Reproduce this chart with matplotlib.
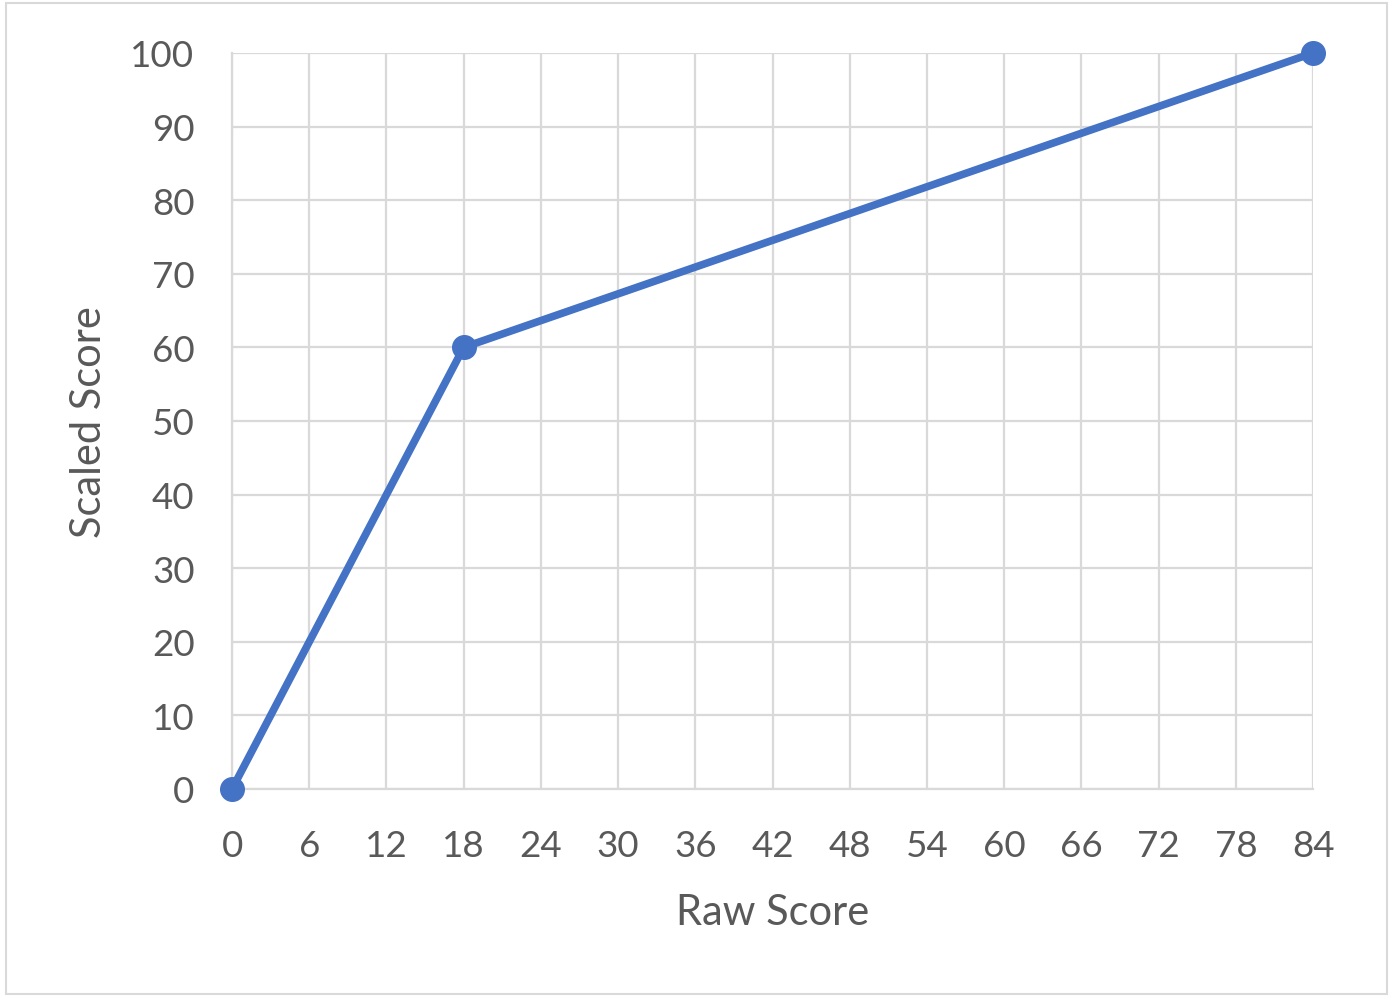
import matplotlib.pyplot as plt
from matplotlib.patches import Rectangle

raw_score = [0, 18, 84]
scaled_score = [0, 60, 100]
x_ticks = list(range(0, 85, 6))
y_ticks = list(range(0, 101, 10))

plt.rcParams['font.family'] = ['Lato', 'DejaVu Sans']
grey = '#595959'
grid_col = '#D9D9D9'

fig = plt.figure(figsize=(13.93, 10.03), dpi=100)
ax = fig.add_axes([0.1666, 0.2124, 0.776, 0.7338])

ax.plot(raw_score, scaled_score, color='#4472C4', lw=5.5, marker='o',
        markersize=17, solid_capstyle='round', clip_on=False, zorder=5)

ax.set_xlim(0, 84)
ax.set_ylim(0, 100)
ax.set_xticks(x_ticks)
ax.set_yticks(y_ticks)
ax.grid(True, color=grid_col, lw=1.6)
ax.set_axisbelow(True)
ax.tick_params(length=0, labelsize=26.5, colors=grey)
ax.tick_params(axis='y', pad=27)
ax.tick_params(axis='x', pad=29)
for s in ['top', 'right']:
    ax.spines[s].set_visible(False)
for s in ['left', 'bottom']:
    ax.spines[s].set_color(grid_col)
    ax.spines[s].set_linewidth(1.6)

ax.set_xlabel('Raw Score', fontsize=30, color=grey, labelpad=22)
ax.set_ylabel('Scaled Score', fontsize=30, color=grey, labelpad=16)

fig.patches.append(Rectangle((0.004, 0.008), 0.992, 0.988, transform=fig.transFigure,
                             fill=False, edgecolor='#D9D9D9', lw=1.5))

plt.savefig('out.png', dpi=100)
